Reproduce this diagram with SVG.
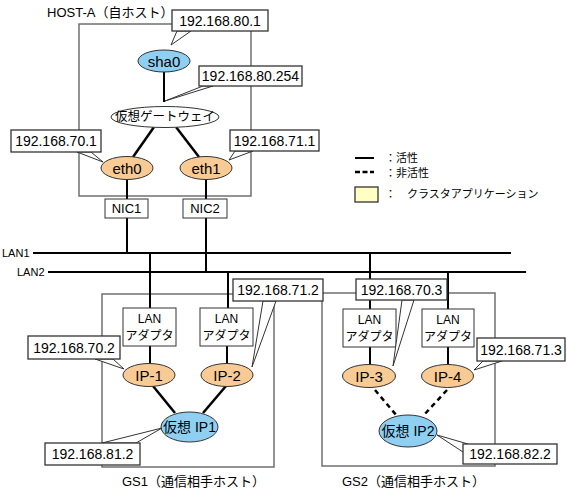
<svg xmlns="http://www.w3.org/2000/svg" width="567" height="490" viewBox="0 0 567 490">
<style>
text{font-family:"Liberation Sans","Noto Sans CJK JP",sans-serif;fill:#000}
.t{font-size:13px}
.ip{font-size:14px;text-anchor:middle;dominant-baseline:central}
.nl{font-size:15px;text-anchor:middle;dominant-baseline:central}
.sm{font-size:12px;text-anchor:middle;dominant-baseline:central}
.lg{font-size:11px;dominant-baseline:central}
.host{fill:none;stroke:#707070;stroke-width:1.5}
.cb{fill:#fff;stroke:#333;stroke-width:1.3}
.wg{fill:#fff;stroke:#333;stroke-width:1}
.blue{fill:#8ecff2;stroke:#333;stroke-width:1}
.peach{fill:#f8cb95;stroke:#333;stroke-width:1}
.wht{fill:#fff;stroke:#333;stroke-width:1}
.ln{stroke:#000;stroke-width:2;fill:none}
.thk{stroke:#000;stroke-width:2.5;fill:none}
.dsh{stroke:#000;stroke-width:2.5;fill:none;stroke-dasharray:5 4}
</style>

<g id="frames">
<rect class="host" x="79" y="24" width="172" height="172"/>
<rect class="host" x="102" y="294" width="172" height="173"/>
<rect class="host" x="322" y="293" width="173" height="173"/>
<text class="t" x="47" y="17">HOST-A（自ホスト）</text>
<text class="t" x="122" y="486">GS1（通信相手ホスト）</text>
<text class="t" x="342" y="486">GS2（通信相手ホスト）</text>
</g>

<g id="lan">
<line class="ln" x1="33" y1="253" x2="511" y2="253"/>
<line class="ln" x1="48" y1="272" x2="526" y2="272"/>
<text class="lg" x="2" y="253">LAN1</text>
<text class="lg" x="17" y="272">LAN2</text>
</g>

<g id="connectors">
<line class="ln" x1="164" y1="72" x2="164" y2="102"/>
<line class="thk" x1="154" y1="127" x2="133" y2="157"/>
<line class="thk" x1="176" y1="127" x2="199" y2="157"/>
<line class="ln" x1="127" y1="179" x2="127" y2="199"/>
<line class="ln" x1="206" y1="179" x2="206" y2="199"/>
<line class="ln" x1="127" y1="218" x2="127" y2="253"/>
<line class="ln" x1="206" y1="218" x2="206" y2="272"/>
<line class="ln" x1="150" y1="253" x2="150" y2="308"/>
<line class="ln" x1="228" y1="272" x2="228" y2="308"/>
<line class="ln" x1="370" y1="253" x2="370" y2="309"/>
<line class="ln" x1="448" y1="272" x2="448" y2="309"/>
<line class="ln" x1="150" y1="346" x2="150" y2="364"/>
<line class="ln" x1="227" y1="346" x2="227" y2="364"/>
<line class="ln" x1="370" y1="347" x2="370" y2="365"/>
<line class="ln" x1="448" y1="347" x2="448" y2="365"/>
<line class="thk" x1="153" y1="386" x2="175" y2="413"/>
<line class="thk" x1="226" y1="386" x2="203" y2="413"/>
<line class="dsh" x1="375" y1="390" x2="397" y2="416"/>
<line class="dsh" x1="447" y1="390" x2="423" y2="416"/>
</g>

<g id="sha0"><ellipse class="blue" cx="164" cy="61" rx="26" ry="11"/><text class="nl" x="164" y="61">sha0</text></g>
<g id="gateway"><ellipse class="wht" cx="165" cy="117" rx="54" ry="10.5"/><text class="sm" x="165" y="117" style="font-size:12.5px">仮想ゲートウェイ</text></g>
<g id="eth0"><ellipse class="peach" cx="127" cy="168" rx="26" ry="11.5"/><text class="nl" x="127" y="168">eth0</text></g>
<g id="eth1"><ellipse class="peach" cx="206" cy="168" rx="26" ry="11.5"/><text class="nl" x="206" y="168">eth1</text></g>
<g id="nic1"><rect class="wht" x="105" y="199" width="43" height="19"/><text class="sm" x="126.5" y="208.5" style="font-size:13px">NIC1</text></g>
<g id="nic2"><rect class="wht" x="183" y="199" width="44" height="19"/><text class="sm" x="205" y="208.5" style="font-size:13px">NIC2</text></g>

<g id="adapter1"><rect class="wht" x="123" y="308" width="53" height="38"/><text class="sm" x="149.5" y="319">LAN</text><text class="sm" x="149.5" y="336">アダプタ</text></g>
<g id="adapter2"><rect class="wht" x="200" y="308" width="53" height="38"/><text class="sm" x="226.5" y="319">LAN</text><text class="sm" x="226.5" y="336">アダプタ</text></g>
<g id="adapter3"><rect class="wht" x="343" y="309" width="53" height="38"/><text class="sm" x="369.5" y="320">LAN</text><text class="sm" x="369.5" y="337">アダプタ</text></g>
<g id="adapter4"><rect class="wht" x="422" y="309" width="52" height="38"/><text class="sm" x="448" y="320">LAN</text><text class="sm" x="448" y="337">アダプタ</text></g>

<g id="ip1"><ellipse class="peach" cx="149" cy="375" rx="26" ry="11.5"/><text class="nl" x="149" y="375">IP-1</text></g>
<g id="ip2"><ellipse class="peach" cx="227" cy="375" rx="26" ry="11.5"/><text class="nl" x="227" y="375">IP-2</text></g>
<g id="ip3"><ellipse class="peach" cx="369" cy="376" rx="26.5" ry="11.5"/><text class="nl" x="369" y="376">IP-3</text></g>
<g id="ip4"><ellipse class="peach" cx="447.5" cy="376" rx="26" ry="11.5"/><text class="nl" x="447.5" y="376">IP-4</text></g>
<g id="vip1"><ellipse class="blue" cx="189.5" cy="427" rx="28.5" ry="15"/><text class="sm" x="189.5" y="427" style="font-size:14px">仮想 IP1</text></g>
<g id="vip2"><ellipse class="blue" cx="408" cy="431" rx="29" ry="16"/><text class="sm" x="408" y="431" style="font-size:14px">仮想 IP2</text></g>

<g id="callouts">
<polygon class="wg" points="177,31 171,45 191,31"/><rect class="cb" x="172" y="10" width="96" height="21"/><text class="ip" x="220" y="21">192.168.80.1</text>
<polygon class="wg" points="203,86 165,101 213,86"/><rect class="cb" x="199" y="66" width="103" height="20"/><text class="ip" x="250.5" y="76">192.168.80.254</text>
<polygon class="wg" points="77,152 103,162 91,152"/><rect class="cb" x="11" y="130" width="90" height="22"/><text class="ip" x="56" y="141">192.168.70.1</text>
<polygon class="wg" points="235,151 229,160 253,151"/><rect class="cb" x="230" y="130" width="89" height="21"/><text class="ip" x="274.5" y="140.5">192.168.71.1</text>
<polygon class="wg" points="95,359 124,369 113,359"/><rect class="cb" x="28" y="336" width="92" height="23"/><text class="ip" x="74" y="347.5">192.168.70.2</text>
<polygon class="wg" points="263,301 252,367 276,301"/><rect class="cb" x="233" y="279" width="90" height="22"/><text class="ip" x="278" y="290">192.168.71.2</text>
<polygon class="wg" points="102,443 162,428 136,443"/><rect class="cb" x="45" y="443" width="95" height="22"/><text class="ip" x="92.5" y="454">192.168.81.2</text>
<polygon class="wg" points="402,300 393,366 414,300"/><rect class="cb" x="356" y="279" width="91" height="21"/><text class="ip" x="401.5" y="289.5">192.168.70.3</text>
<polygon class="wg" points="483,361 474,370 502,361"/><rect class="cb" x="477" y="338" width="88" height="23"/><text class="ip" x="521" y="349.5">192.168.71.3</text>
<polygon class="wg" points="468,444 437,435 463,452"/><rect class="cb" x="463" y="444" width="94" height="20"/><text class="ip" x="510" y="454">192.168.82.2</text>
</g>

<g id="legend">
<line class="ln" x1="355" y1="158" x2="374" y2="158"/>
<line x1="355" y1="172" x2="374" y2="172" stroke="#000" stroke-width="2.5" stroke-dasharray="5 2.5"/>
<rect x="355" y="187" width="23" height="15" fill="#ffffc4" stroke="#333" stroke-width="1.3"/>
<text class="lg" x="385" y="158">：活性</text>
<text class="lg" x="385" y="173">：非活性</text>
<text class="lg" x="385" y="194">：　クラスタアプリケーション</text>
</g>
</svg>
